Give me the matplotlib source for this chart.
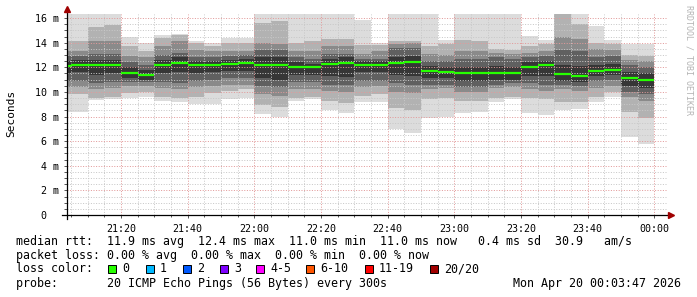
import numpy as np
import matplotlib
matplotlib.use("Agg")
import matplotlib.pyplot as plt
from matplotlib.patches import Rectangle
from matplotlib.lines import Line2D

W, H = 697, 297

# minutes after 21:00, one 5 minute step per column
col_start = list(range(0, 180, 5))

median = [12.1, 12.2, 12.2, 12.2, 11.55, 11.4, 12.2, 12.35, 12.15, 12.15, 12.3, 12.35,
          12.2, 12.2, 12.05, 12.0, 12.3, 12.35, 12.2, 12.2, 12.35, 12.4, 11.7, 11.65,
          11.55, 11.55, 11.55, 11.55, 12.05, 12.15, 11.45, 11.3, 11.7, 11.8, 11.15, 11.0]

# smoke, outer to inner pairs of ping values (ms)
ping_max = [16.6, 16.6, 16.6, 16.6, 14.5, 13.95, 14.6, 14.7, 14.1, 14.0, 14.35, 14.35,
            16.6, 16.6, 16.6, 16.6, 16.6, 16.6, 15.85, 13.95, 16.6, 16.6, 16.6, 14.2,
            16.6, 16.6, 16.6, 16.6, 14.55, 14.2, 16.6, 16.6, 15.35, 14.2, 13.9, 13.9]
ping_min = [8.4, 8.4, 9.35, 9.45, 9.5, 9.55, 9.3, 9.2, 9.0, 9.0, 9.4, 9.5,
            8.2, 8.0, 9.3, 9.4, 8.5, 8.3, 9.2, 9.2, 7.0, 6.65, 7.9, 8.0,
            8.25, 8.4, 9.2, 9.4, 8.3, 8.1, 8.5, 8.6, 9.2, 9.6, 6.3, 5.8]
band2_hi = [14.1, 14.1, 15.3, 15.4, 13.7, 13.3, 14.35, 14.6, 14.0, 13.7, 14.0, 14.0,
            15.6, 15.8, 14.0, 14.1, 14.3, 14.3, 13.8, 13.8, 14.1, 14.1, 13.7, 13.9,
            14.2, 14.1, 13.5, 13.4, 13.7, 13.9, 16.6, 15.5, 14.0, 13.9, 13.0, 12.9]
band2_lo = [9.8, 9.8, 9.5, 9.6, 9.9, 10.0, 9.6, 9.5, 9.6, 9.9, 10.1, 10.2,
            8.9, 8.8, 9.5, 9.6, 9.3, 9.1, 9.7, 9.8, 8.7, 8.5, 9.4, 9.5,
            9.3, 9.3, 9.5, 9.6, 9.5, 9.4, 9.2, 9.2, 9.6, 10.0, 8.4, 7.9]
band3_hi = [13.3, 13.3, 14.1, 14.1, 12.9, 12.8, 13.7, 14.1, 13.4, 13.3, 13.3, 13.3,
            14.0, 13.9, 13.3, 13.3, 13.7, 13.7, 13.1, 13.3, 13.9, 14.0, 13.1, 13.0,
            13.3, 13.3, 13.2, 13.1, 13.2, 13.3, 14.5, 14.3, 13.5, 13.4, 12.6, 12.5]
band3_lo = [10.4, 10.4, 10.2, 10.3, 10.5, 10.5, 10.3, 10.2, 10.4, 10.5, 10.6, 10.6,
            9.8, 9.7, 10.2, 10.2, 10.1, 10.0, 10.4, 10.5, 10.0, 9.9, 10.2, 10.3,
            10.0, 10.0, 10.3, 10.4, 10.2, 10.1, 10.2, 10.1, 10.3, 10.5, 9.6, 9.3]
band4_hi = [12.9, 12.9, 13.1, 13.1, 12.4, 12.2, 13.0, 13.2, 12.8, 12.8, 12.9, 13.0,
            13.4, 13.4, 12.8, 12.7, 13.1, 13.1, 12.7, 12.7, 13.6, 13.6, 12.5, 12.5,
            12.7, 12.7, 12.8, 12.7, 12.8, 12.9, 13.4, 13.3, 12.8, 12.9, 12.2, 12.0]
band4_lo = [10.9, 10.9, 10.7, 10.8, 10.8, 10.8, 10.8, 10.7, 10.9, 11.0, 11.1, 11.1,
            10.5, 10.4, 10.8, 10.8, 10.6, 10.6, 10.9, 10.9, 10.7, 10.6, 10.6, 10.6,
            10.4, 10.4, 10.6, 10.7, 10.7, 10.6, 10.6, 10.5, 10.9, 11.0, 10.0, 9.8]
core_hi = [12.5, 12.6, 12.6, 12.6, 12.0, 11.8, 12.6, 12.8, 12.5, 12.5, 12.6, 12.7,
           12.8, 12.8, 12.4, 12.3, 12.7, 12.8, 12.5, 12.5, 12.8, 12.9, 12.1, 12.0,
           12.0, 12.0, 12.1, 12.0, 12.4, 12.5, 12.2, 12.1, 12.2, 12.3, 11.6, 11.5]
core_lo = [11.5, 11.6, 11.4, 11.5, 11.1, 11.0, 11.5, 11.6, 11.5, 11.6, 11.7, 11.7,
           11.1, 11.0, 11.4, 11.4, 11.3, 11.2, 11.6, 11.6, 11.4, 11.3, 11.1, 11.1,
           10.9, 10.9, 11.0, 11.0, 11.3, 11.3, 10.9, 10.8, 11.3, 11.4, 10.5, 10.3]

x_ticks = [20, 40, 60, 80, 100, 120, 140, 160, 180]
x_labels = ["21:20", "21:40", "22:00", "22:20", "22:40", "23:00", "23:20", "23:40", "00:00"]
y_ticks = [0, 2, 4, 6, 8, 10, 12, 14, 16]
y_labels = ["0  ", "2 m", "4 m", "6 m", "8 m", "10 m", "12 m", "14 m", "16 m"]

loss_labels = ["0", "1", "2", "3", "4-5", "6-10", "11-19", "20/20"]
loss_colors = ["#26ff00", "#00b8ff", "#0059ff", "#7e00ff", "#ff00ff", "#ff5500", "#ff0000", "#a10000"]

MONO = "DejaVu Sans Mono"


def fx(px):
    return px / W


def fy(py):
    return 1 - py / H


def main():
    fig = plt.figure(figsize=(W / 100, H / 100), dpi=100)
    y_top = 16.3
    ax_left, ax_right, ax_bottom = 67, 667, 215
    ax_top = ax_bottom - y_top * 12.31
    ax = fig.add_axes([fx(ax_left), fy(ax_bottom), (ax_right - ax_left) / W, (ax_bottom - ax_top) / H])

    shades = ["#dcdcdc", "#b2b2b2", "#8a8a8a", "#606060", "#363636"]
    bands = [(ping_min, ping_max), (band2_lo, band2_hi), (band3_lo, band3_hi),
             (band4_lo, band4_hi), (core_lo, core_hi)]
    for (lo, hi), shade in zip(bands, shades):
        ax.bar(col_start, np.subtract(hi, lo), bottom=lo, width=5, align="edge",
               color=shade, linewidth=0, antialiased=False, zorder=1)

    starts = np.array(col_start)
    ax.hlines(median, starts, starts + 5, colors="#26ff00", linewidth=1.6, zorder=4)

    ax.set_xlim(3.783, 183.783)
    ax.set_ylim(0, y_top)
    ax.set_xticks(x_ticks)
    ax.set_xticks(range(5, 185, 5), minor=True)
    ax.set_xticklabels(x_labels, fontfamily=MONO, fontsize=7.2)
    ax.set_yticks(y_ticks)
    ax.set_yticks(np.arange(0, 16.3, 0.5), minor=True)
    ax.set_yticklabels(y_labels, fontfamily=MONO, fontsize=7.2)
    ax.tick_params(axis="both", which="both", direction="out", color="#555555", width=0.7)
    ax.tick_params(axis="y", which="major", length=2, pad=4)
    ax.tick_params(axis="y", which="minor", length=2)
    ax.tick_params(axis="x", which="major", length=2.5, pad=4)
    ax.tick_params(axis="x", which="minor", length=1.5)

    ax.set_axisbelow(False)
    ax.grid(which="minor", color="#c8c8c8", linestyle=(0, (1, 1.6)), linewidth=0.72)
    ax.grid(which="major", color="#e29a9a", linestyle=(0, (1, 1.6)), linewidth=0.72)

    for s in ax.spines.values():
        s.set_visible(False)

    # axes with arrows, drawn in figure pixels
    fig.add_artist(Line2D([fx(62), fx(669)], [fy(215), fy(215)], color="black", lw=0.9))
    fig.add_artist(Line2D([fx(67), fx(67)], [fy(219), fy(11)], color="black", lw=0.9))
    fig.add_artist(Line2D([fx(671)], [fy(215)], marker=">", color="#a00000", markersize=4, lw=0))
    fig.add_artist(Line2D([fx(67)], [fy(9)], marker="^", color="#a00000", markersize=4, lw=0))

    fig.text(fx(11), fy(113), "Seconds", rotation=90, fontfamily=MONO, fontsize=8,
             ha="center", va="center")
    fig.text(fx(689), fy(60), "RRDTOOL / TOBI OETIKER", rotation=270, fontfamily=MONO,
             fontsize=6, color="#b4b4b4", ha="center", va="center")

    tfont = dict(fontfamily=MONO, fontsize=8.4, va="center")
    fig.text(fx(16), fy(241), "median rtt:  11.9 ms avg  12.4 ms max  11.0 ms min  "
             "11.0 ms now   0.4 ms sd  30.9   am/s", **tfont)
    fig.text(fx(16), fy(255), "packet loss: 0.00 % avg  0.00 % max  0.00 % min  0.00 % now", **tfont)
    fig.text(fx(16), fy(269), "loss color:", **tfont)
    box_x = [108, 146, 183, 220, 256, 306, 365, 430]
    for bx, lab, col in zip(box_x, loss_labels, loss_colors):
        fig.add_artist(Rectangle((fx(bx), fy(273)), 8 / W, 8 / H, facecolor=col,
                                 edgecolor="black", linewidth=0.7))
        fig.text(fx(bx + 14), fy(269), lab, **tfont)
    fig.text(fx(16), fy(283), "probe:       20 ICMP Echo Pings (56 Bytes) every 300s", **tfont)
    fig.text(fx(681), fy(283), "Mon Apr 20 00:03:47 2026", ha="right", fontfamily=MONO,
             fontsize=8.4, va="center")

    fig.savefig("out.png", dpi=100)
    plt.close(fig)


if __name__ == "__main__":
    main()
